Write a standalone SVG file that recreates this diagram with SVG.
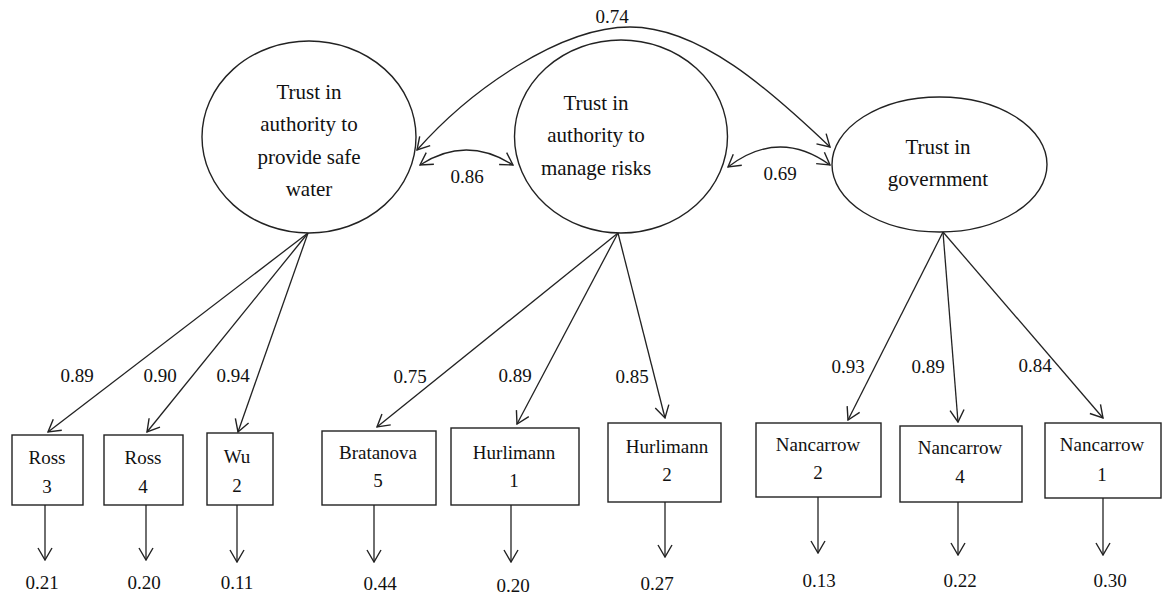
<svg xmlns="http://www.w3.org/2000/svg" width="1162" height="598" viewBox="0 0 1162 598" font-family="'Liberation Serif', 'DejaVu Serif', serif">
<style>
text{font-family:"Liberation Serif","DejaVu Serif",serif;fill:#111;text-anchor:middle}
.lat{font-size:21px}
.obs{font-size:19px}
.num{font-size:19px}
.shape{fill:#fff;stroke:#222;stroke-width:1.4}
.conn{fill:none;stroke:#222;stroke-width:1.3}
</style>
<defs>
<marker id="arr" markerUnits="userSpaceOnUse" viewBox="0 0 14 16" refX="13" refY="8" markerWidth="14" markerHeight="16" orient="auto-start-reverse">
<path d="M1,1 L13,8 L1,15" fill="none" stroke="#222" stroke-width="1.4"/>
</marker>
</defs>
<rect width="1162" height="598" fill="#fff"/>
<g id="connectors">
<path class="conn" d="M417,150 C470,90 560,27 630,27 C700,27 770,90 830,147" marker-start="url(#arr)" marker-end="url(#arr)"/>
<path class="conn" d="M420,165 Q466,135 513,165" marker-start="url(#arr)" marker-end="url(#arr)"/>
<path class="conn" d="M728,167 Q779,128 830,165" marker-start="url(#arr)" marker-end="url(#arr)"/>
<line class="conn" x1="308" y1="233" x2="48" y2="432" marker-end="url(#arr)"/>
<line class="conn" x1="308" y1="233" x2="147" y2="432" marker-end="url(#arr)"/>
<line class="conn" x1="308" y1="233" x2="238" y2="432" marker-end="url(#arr)"/>
<line class="conn" x1="618" y1="233" x2="377" y2="427" marker-end="url(#arr)"/>
<line class="conn" x1="618" y1="233" x2="517" y2="424" marker-end="url(#arr)"/>
<line class="conn" x1="618" y1="233" x2="665" y2="418" marker-end="url(#arr)"/>
<line class="conn" x1="943" y1="232" x2="848" y2="420" marker-end="url(#arr)"/>
<line class="conn" x1="943" y1="232" x2="958" y2="422" marker-end="url(#arr)"/>
<line class="conn" x1="943" y1="232" x2="1103" y2="418" marker-end="url(#arr)"/>
<line class="conn" x1="45" y1="505" x2="45" y2="560" marker-end="url(#arr)"/>
<line class="conn" x1="146" y1="505" x2="146" y2="560" marker-end="url(#arr)"/>
<line class="conn" x1="237" y1="505" x2="237" y2="562" marker-end="url(#arr)"/>
<line class="conn" x1="374" y1="505" x2="374" y2="562" marker-end="url(#arr)"/>
<line class="conn" x1="511" y1="505" x2="511" y2="562" marker-end="url(#arr)"/>
<line class="conn" x1="665" y1="502" x2="665" y2="557" marker-end="url(#arr)"/>
<line class="conn" x1="818" y1="497" x2="818" y2="553" marker-end="url(#arr)"/>
<line class="conn" x1="958" y1="502" x2="958" y2="555" marker-end="url(#arr)"/>
<line class="conn" x1="1103" y1="498" x2="1103" y2="555" marker-end="url(#arr)"/>
<text class="num" x="612" y="23">0.74</text>
<text class="num" x="467" y="183">0.86</text>
<text class="num" x="780" y="180">0.69</text>
<text class="num" x="77" y="382">0.89</text>
<text class="num" x="160" y="382">0.90</text>
<text class="num" x="233" y="382">0.94</text>
<text class="num" x="410" y="383">0.75</text>
<text class="num" x="515" y="382">0.89</text>
<text class="num" x="632" y="383">0.85</text>
<text class="num" x="848" y="373">0.93</text>
<text class="num" x="928" y="373">0.89</text>
<text class="num" x="1035" y="372">0.84</text>
<text class="num" x="42" y="589">0.21</text>
<text class="num" x="144" y="589">0.20</text>
<text class="num" x="237" y="589">0.11</text>
<text class="num" x="380" y="590">0.44</text>
<text class="num" x="513" y="592">0.20</text>
<text class="num" x="657" y="590">0.27</text>
<text class="num" x="819" y="587">0.13</text>
<text class="num" x="960" y="587">0.22</text>
<text class="num" x="1110" y="587">0.30</text>
</g>
<g id="f1">
<ellipse class="shape" cx="309" cy="137" rx="107" ry="96"/>
<text class="lat" x="309" y="99">Trust in</text>
<text class="lat" x="309" y="131">authority to</text>
<text class="lat" x="309" y="164">provide safe</text>
<text class="lat" x="309" y="196">water</text>
</g>
<g id="f2">
<ellipse class="shape" cx="621" cy="136.5" rx="106.5" ry="96.5"/>
<text class="lat" x="596" y="110">Trust in</text>
<text class="lat" x="596" y="142">authority to</text>
<text class="lat" x="596" y="175">manage risks</text>
</g>
<g id="f3">
<ellipse class="shape" cx="939.5" cy="164.5" rx="107.5" ry="67.5"/>
<text class="lat" x="938" y="154">Trust in</text>
<text class="lat" x="938" y="186">government</text>
</g>
<g id="ross3"><rect class="shape" x="12" y="435" width="71" height="70"/><text class="obs" x="47" y="464">Ross</text><text class="obs" x="47" y="493">3</text></g>
<g id="ross4"><rect class="shape" x="104" y="435" width="79" height="70"/><text class="obs" x="143" y="464">Ross</text><text class="obs" x="143" y="493">4</text></g>
<g id="wu2"><rect class="shape" x="207" y="433" width="66" height="72"/><text class="obs" x="237" y="463">Wu</text><text class="obs" x="237" y="492">2</text></g>
<g id="bratanova5"><rect class="shape" x="322" y="431" width="114" height="74"/><text class="obs" x="378" y="459">Bratanova</text><text class="obs" x="378" y="487">5</text></g>
<g id="hurlimann1"><rect class="shape" x="451" y="428" width="128" height="77"/><text class="obs" x="514" y="459">Hurlimann</text><text class="obs" x="514" y="487">1</text></g>
<g id="hurlimann2"><rect class="shape" x="608" y="423" width="113" height="79"/><text class="obs" x="667" y="453">Hurlimann</text><text class="obs" x="667" y="481">2</text></g>
<g id="nancarrow2"><rect class="shape" x="756" y="423" width="125" height="74"/><text class="obs" x="818" y="451">Nancarrow</text><text class="obs" x="818" y="479">2</text></g>
<g id="nancarrow4"><rect class="shape" x="900" y="426" width="122" height="76"/><text class="obs" x="960" y="454">Nancarrow</text><text class="obs" x="960" y="483">4</text></g>
<g id="nancarrow1"><rect class="shape" x="1045" y="423" width="116" height="75"/><text class="obs" x="1102" y="451">Nancarrow</text><text class="obs" x="1102" y="481">1</text></g>
</svg>
